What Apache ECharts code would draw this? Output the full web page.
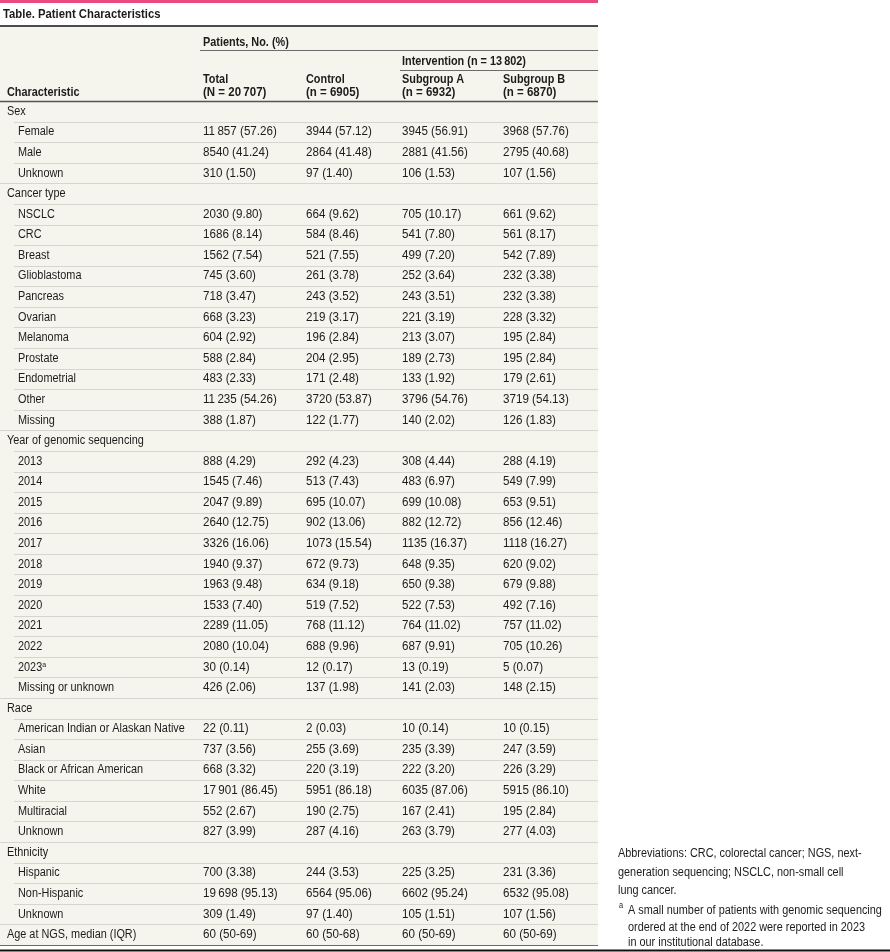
<!DOCTYPE html>
<html>
<head>
<meta charset="utf-8">
<script src="https://cdn.jsdelivr.net/npm/echarts@6/dist/echarts.min.js"></script>
<style>
  html, body { margin: 0; padding: 0; background: #fff; }
  #main { width: 890px; height: 952px; }
</style>
</head>
<body>
<div id="main"></div>
<script>
// 表格数据
var groupNames = ['Sex', 'Cancer type', 'Year of genomic sequencing', 'Race', 'Ethnicity'];
var groupItems = [
    ['Female', 'Male', 'Unknown'],
    ['NSCLC', 'CRC', 'Breast', 'Glioblastoma', 'Pancreas', 'Ovarian', 'Melanoma', 'Prostate', 'Endometrial', 'Other', 'Missing'],
    ['2013', '2014', '2015', '2016', '2017', '2018', '2019', '2020', '2021', '2022', '2023{sup|a}', 'Missing or unknown'],
    ['American Indian or Alaskan Native', 'Asian', 'Black or African American', 'White', 'Multiracial', 'Unknown'],
    ['Hispanic', 'Non-Hispanic', 'Unknown']
];
var totalN = [11857, 8540, 310, 2030, 1686, 1562, 745, 718, 668, 604, 588, 483, 11235, 388,
    888, 1545, 2047, 2640, 3326, 1940, 1963, 1533, 2289, 2080, 30, 426,
    22, 737, 668, 17901, 552, 827, 700, 19698, 309];
var totalPct = [57.26, 41.24, 1.50, 9.80, 8.14, 7.54, 3.60, 3.47, 3.23, 2.92, 2.84, 2.33, 54.26, 1.87,
    4.29, 7.46, 9.89, 12.75, 16.06, 9.37, 9.48, 7.40, 11.05, 10.04, 0.14, 2.06,
    0.11, 3.56, 3.32, 86.45, 2.67, 3.99, 3.38, 95.13, 1.49];
var controlN = [3944, 2864, 97, 664, 584, 521, 261, 243, 219, 196, 204, 171, 3720, 122,
    292, 513, 695, 902, 1073, 672, 634, 519, 768, 688, 12, 137,
    2, 255, 220, 5951, 190, 287, 244, 6564, 97];
var controlPct = [57.12, 41.48, 1.40, 9.62, 8.46, 7.55, 3.78, 3.52, 3.17, 2.84, 2.95, 2.48, 53.87, 1.77,
    4.23, 7.43, 10.07, 13.06, 15.54, 9.73, 9.18, 7.52, 11.12, 9.96, 0.17, 1.98,
    0.03, 3.69, 3.19, 86.18, 2.75, 4.16, 3.53, 95.06, 1.40];
var subAN = [3945, 2881, 106, 705, 541, 499, 252, 243, 221, 213, 189, 133, 3796, 140,
    308, 483, 699, 882, 1135, 648, 650, 522, 764, 687, 13, 141,
    10, 235, 222, 6035, 167, 263, 225, 6602, 105];
var subAPct = [56.91, 41.56, 1.53, 10.17, 7.80, 7.20, 3.64, 3.51, 3.19, 3.07, 2.73, 1.92, 54.76, 2.02,
    4.44, 6.97, 10.08, 12.72, 16.37, 9.35, 9.38, 7.53, 11.02, 9.91, 0.19, 2.03,
    0.14, 3.39, 3.20, 87.06, 2.41, 3.79, 3.25, 95.24, 1.51];
var subBN = [3968, 2795, 107, 661, 561, 542, 232, 232, 228, 195, 195, 179, 3719, 126,
    288, 549, 653, 856, 1118, 620, 679, 492, 757, 705, 5, 148,
    10, 247, 226, 5915, 195, 277, 231, 6532, 107];
var subBPct = [57.76, 40.68, 1.56, 9.62, 8.17, 7.89, 3.38, 3.38, 3.32, 2.84, 2.84, 2.61, 54.13, 1.83,
    4.19, 7.99, 9.51, 12.46, 16.27, 9.02, 9.88, 7.16, 11.02, 10.26, 0.07, 2.15,
    0.15, 3.59, 3.29, 86.10, 2.84, 4.03, 3.36, 95.08, 1.56];
var ageLabel = 'Age at NGS, median (IQR)';
var ageMedian = [60, 60, 60, 60];
var ageQ1 = [50, 50, 50, 50];
var ageQ3 = [69, 68, 69, 69];
var columnHeads = [['Total', '(N = 20\u2009707)'], ['Control', '(n = 6905)'], ['Subgroup A', '(n = 6932)'], ['Subgroup B', '(n = 6870)']];
var spanHead = 'Patients, No. (%)';
var interventionHead = 'Intervention (n = 13\u2009802)';
var footAbbrev = ['Abbreviations: CRC, colorectal cancer; NGS, next-', 'generation sequencing; NSCLC, non-small cell', 'lung cancer.'];
var footNoteA = ['A small number of patients with genomic sequencing', 'ordered at the end of 2022 were reported in 2023', 'in our institutional database.'];

//版式
var FONT = '"Liberation Sans", Arial, sans-serif';
var SX = 0.87;   //横向压缩，模拟窄体字
var SX_NUM = 0.93;
var TEXT = '#1e1b1c';
var TABLE_W = 598;
var colX = [203, 306, 402, 503];

//数字格式：五位数加细空格
function fmtN(n) {
    var s = String(n);
    if (n >= 10000) {
        s = s.slice(0, s.length - 3) + '\u2009' + s.slice(s.length - 3);
    }
    return s;
}

//文字元素
function txt(x, y, text, font, extra, sx) {
    let st = { x: 0, y: 0, text: text, font: font, fill: TEXT, align: 'left', verticalAlign: 'middle' };
    if (extra) {
        for (let p in extra) st[p] = extra[p];
    }
    return { type: 'text', x: x, y: y, scaleX: sx || SX, style: st };
}

//拼出所有行
var rows = [];
{
    let k = 0;
    for (let g = 0; g < groupNames.length; g++) {
        rows.push({ label: groupNames[g], level: 0, cells: null });
        for (let j = 0; j < groupItems[g].length; j++) {
            rows.push({
                label: groupItems[g][j],
                level: 1,
                last: j === groupItems[g].length - 1,
                cells: [
                    fmtN(totalN[k]) + ' (' + totalPct[k].toFixed(2) + ')',
                    fmtN(controlN[k]) + ' (' + controlPct[k].toFixed(2) + ')',
                    fmtN(subAN[k]) + ' (' + subAPct[k].toFixed(2) + ')',
                    fmtN(subBN[k]) + ' (' + subBPct[k].toFixed(2) + ')'
                ]
            });
            k++;
        }
    }
    let ageCells = [];
    for (let i = 0; i < 4; i++) {
        ageCells.push(ageMedian[i] + ' (' + ageQ1[i] + '-' + ageQ3[i] + ')');
    }
    rows.push({ label: ageLabel, level: 0, cells: ageCells, end: true });
}

var rowIdx = rows.map(function (r, i) { return String(i); });
var seriesData = rows.map(function (r, i) { return [0, i]; });

function renderRow(params, api) {
    let i = api.value(1);
    let row = rows[i];
    let c = api.coord([0, i]);
    let h = api.size([0, 1])[1];
    let yMid = c[1];
    let yBot = Math.round(yMid + h / 2) + 0.5;
    let kids = [];
    //分隔线
    let x0 = (row.level === 1 && !row.last) || (row.level === 0 && !row.end) ? 14 : 0;
    if (row.end) {
        kids.push({ type: 'line', shape: { x1: 0, y1: yBot, x2: api.coord([TABLE_W, i])[0], y2: yBot },
            style: { stroke: '#6b6b6b', lineWidth: 1.2 } });
    } else {
        kids.push({ type: 'line', shape: { x1: api.coord([x0, i])[0], y1: yBot, x2: api.coord([TABLE_W, i])[0], y2: yBot },
            style: { stroke: '#d6d5cf', lineWidth: 1 } });
    }
    kids.push(txt(api.coord([row.level === 1 ? 18 : 7, i])[0], yMid, row.label, '12.5px ' + FONT, {
        rich: { sup: { fontSize: 8, fill: TEXT, fontFamily: FONT, verticalAlign: 'top', padding: [0, 0, 5, 0] } }
    }));
    if (row.cells) {
        for (let k = 0; k < row.cells.length; k++) {
            kids.push(txt(api.coord([colX[k], i])[0], yMid, row.cells[k], '12.5px ' + FONT, null, SX_NUM));
        }
    }
    return { type: 'group', children: kids };
}

//表头和脚注
var HEAD = 'bold 12.5px ' + FONT;
var graphics = [
    { type: 'rect', z: -10, shape: { x: 0, y: 26, width: TABLE_W, height: 919 }, style: { fill: '#f5f4ed' } },
    { type: 'line', shape: { x1: 0, y1: 1.5, x2: TABLE_W, y2: 1.5 }, style: { stroke: '#ea4a7e', lineWidth: 3 } },
    txt(3, 14.5, 'Table. Patient Characteristics', 'bold 13px ' + FONT),
    { type: 'line', shape: { x1: 0, y1: 26, x2: TABLE_W, y2: 26 }, style: { stroke: '#111', lineWidth: 1.5 } },
    txt(colX[0], 43, spanHead, HEAD),
    { type: 'line', shape: { x1: 200, y1: 50.5, x2: TABLE_W, y2: 50.5 }, style: { stroke: '#6b6b6b', lineWidth: 1.2 } },
    txt(colX[2], 62, interventionHead, HEAD),
    { type: 'line', shape: { x1: 400, y1: 70.5, x2: TABLE_W, y2: 70.5 }, style: { stroke: '#6b6b6b', lineWidth: 1.2 } },
    txt(7, 93, 'Characteristic', HEAD),
    { type: 'line', shape: { x1: 0, y1: 101.5, x2: TABLE_W, y2: 101.5 }, style: { stroke: '#555', lineWidth: 1.5 } },
    { type: 'line', shape: { x1: 0, y1: 950.5, x2: 890, y2: 950.5 }, style: { stroke: '#111', lineWidth: 2 } }
];
for (let k = 0; k < columnHeads.length; k++) {
    graphics.push(txt(colX[k], 80, columnHeads[k][0], HEAD));
    graphics.push(txt(colX[k], 93, columnHeads[k][1], HEAD, null, 0.92));
}
var FOOT = '12.5px ' + FONT;
var footY = [854, 873, 891];
for (let k = 0; k < footAbbrev.length; k++) {
    graphics.push(txt(618, footY[k], footAbbrev[k], FOOT));
}
var noteY = [911, 928, 943];
graphics.push(txt(619, 906, 'a', '8.5px ' + FONT));
for (let k = 0; k < footNoteA.length; k++) {
    graphics.push(txt(628, noteY[k], footNoteA[k], FOOT));
}

var chart = echarts.init(document.getElementById('main'));
var option = {
    backgroundColor: '#ffffff',
    animation: false,
    grid: { left: 0, top: 101, width: TABLE_W, height: 844, containLabel: false },
    xAxis: { type: 'value', min: 0, max: TABLE_W, show: false },
    yAxis: { type: 'category', data: rowIdx, inverse: true, show: false },
    graphic: graphics,
    series: [
        {
            type: 'custom',
            renderItem: renderRow,
            encode: { x: 0, y: 1 },
            data: seriesData,
            clip: false,
            silent: true
        }
    ]
};
chart.setOption(option);
</script>
</body>
</html>
